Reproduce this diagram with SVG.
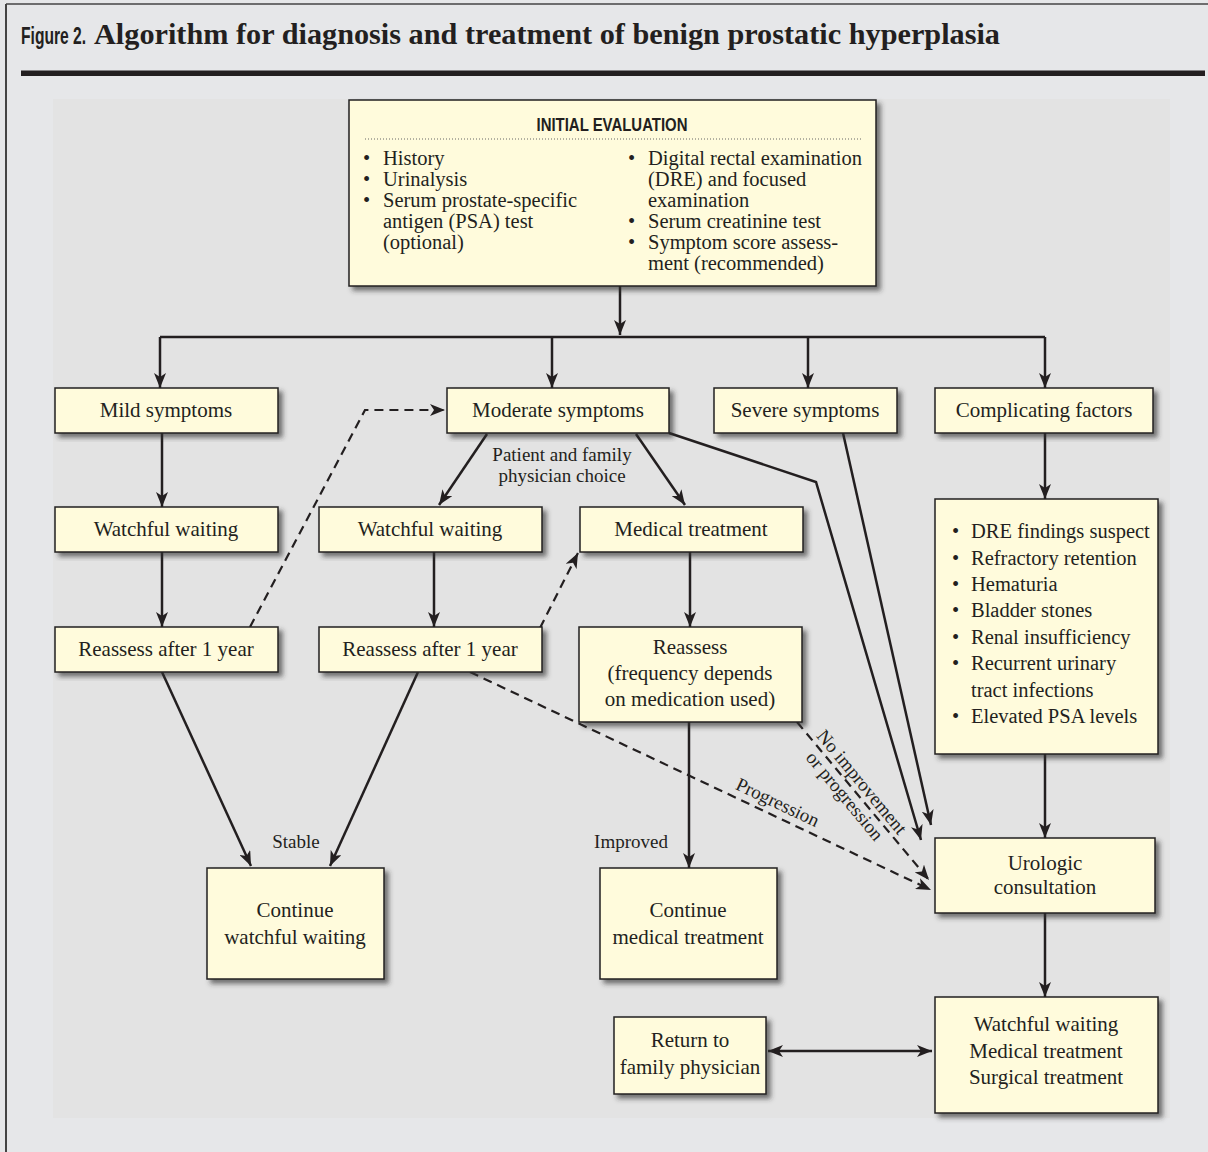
<svg xmlns="http://www.w3.org/2000/svg" width="1208" height="1152" viewBox="0 0 1208 1152">
<style>
.bg{fill:#e6e7e9}
.panel{fill:#e3e3e3}
.box{fill:#fffbdc;stroke:#231f20;stroke-width:1.5;filter:url(#sh)}
.t{font-family:"Liberation Serif",serif;font-size:21px;fill:#231f20;text-anchor:middle}
.l{font-family:"Liberation Serif",serif;font-size:20.5px;fill:#231f20}
.lab{font-family:"Liberation Serif",serif;font-size:19px;fill:#231f20;text-anchor:middle}
.c{fill:none;stroke:#231f20;stroke-width:2.5}
.d{fill:none;stroke:#231f20;stroke-width:2.2;stroke-dasharray:9 6}
</style>
<defs>
<filter id="sh" x="-10%" y="-10%" width="130%" height="130%">
<feDropShadow dx="4" dy="4" stdDeviation="2.5" flood-color="#333" flood-opacity="0.65"/>
</filter>
<marker id="a" markerUnits="userSpaceOnUse" markerWidth="16" markerHeight="12" refX="15" refY="6" orient="auto">
<path d="M0,0 L15,6 L0,12 L4,6 z" fill="#231f20"/>
</marker>
<marker id="as" markerUnits="userSpaceOnUse" markerWidth="16" markerHeight="12" refX="15" refY="6" orient="auto-start-reverse">
<path d="M0,0 L15,6 L0,12 L4,6 z" fill="#231f20"/>
</marker>
</defs>
<rect class="bg" x="0" y="0" width="1208" height="1152"/>
<rect class="panel" x="53" y="99" width="1117" height="1019"/>
<line x1="6" y1="4" x2="1208" y2="4" stroke="#444" stroke-width="1.5"/>
<line x1="6" y1="4" x2="6" y2="1152" stroke="#444" stroke-width="2"/>
<g id="title">
<text transform="translate(21,44) scale(0.68,1)" font-family="'Liberation Sans',sans-serif" font-weight="bold" font-size="23" fill="#231f20">Figure 2.</text>
<text x="94" y="44" font-family="'Liberation Serif',serif" font-weight="bold" font-size="29" fill="#231f20" textLength="906" lengthAdjust="spacingAndGlyphs">Algorithm for diagnosis and treatment of benign prostatic hyperplasia</text>
</g>
<rect x="21" y="70.5" width="1184" height="5.5" fill="#231f20"/>

<g id="connectors">
<path class="c" d="M620,286 V335" marker-end="url(#a)"/>
<path class="c" d="M160,337 H1045"/>
<path class="c" d="M160,337 V388" marker-end="url(#a)"/>
<path class="c" d="M552,337 V388" marker-end="url(#a)"/>
<path class="c" d="M808,337 V388" marker-end="url(#a)"/>
<path class="c" d="M1045,337 V388" marker-end="url(#a)"/>
<path class="c" d="M162,433 V507" marker-end="url(#a)"/>
<path class="c" d="M162,552 V627" marker-end="url(#a)"/>
<path class="c" d="M487,434 L439,505" marker-end="url(#a)"/>
<path class="c" d="M636,434 L685,505" marker-end="url(#a)"/>
<path class="c" d="M434,552 V627" marker-end="url(#a)"/>
<path class="c" d="M690,552 V627" marker-end="url(#a)"/>
<path class="c" d="M1045,433 V499" marker-end="url(#a)"/>
<path class="c" d="M1045,754 V838" marker-end="url(#a)"/>
<path class="c" d="M1045,913 V997" marker-end="url(#a)"/>
<path class="c" d="M669,433 L816,482 L921,840" marker-end="url(#a)"/>
<path class="c" d="M843,433 L931,825" marker-end="url(#a)"/>
<path class="c" d="M162,672 L251,866" marker-end="url(#a)"/>
<path class="c" d="M418,672 L330,866" marker-end="url(#a)"/>
<path class="c" d="M689,722 V868" marker-end="url(#a)"/>
<path class="c" d="M768,1051 H932" marker-start="url(#as)" marker-end="url(#a)"/>
<path class="d" d="M250,627 L365,410 H445" marker-end="url(#a)"/>
<path class="d" d="M540,628 L578,553" marker-end="url(#a)"/>
<path class="d" d="M470,672 L931,890" marker-end="url(#a)"/>
<path class="d" d="M797,722 L929,880" marker-end="url(#a)"/>
</g>

<g id="initial-evaluation">
<rect class="box" x="349" y="100" width="527" height="186"/>
<text x="612" y="131" font-family="'Liberation Sans',sans-serif" font-weight="bold" font-size="18" fill="#231f20" text-anchor="middle" textLength="151" lengthAdjust="spacingAndGlyphs">INITIAL EVALUATION</text>
<line x1="365" y1="139" x2="862" y2="139" stroke="#666" stroke-width="1" stroke-dasharray="1 2"/>
<text class="l" x="363" y="165">•</text><text class="l" x="383" y="165">History</text>
<text class="l" x="363" y="186">•</text><text class="l" x="383" y="186">Urinalysis</text>
<text class="l" x="363" y="207">•</text><text class="l" x="383" y="207">Serum prostate-specific</text>
<text class="l" x="383" y="228">antigen (PSA) test</text>
<text class="l" x="383" y="249">(optional)</text>
<text class="l" x="628" y="165">•</text><text class="l" x="648" y="165">Digital rectal examination</text>
<text class="l" x="648" y="186">(DRE) and focused</text>
<text class="l" x="648" y="207">examination</text>
<text class="l" x="628" y="228">•</text><text class="l" x="648" y="228">Serum creatinine test</text>
<text class="l" x="628" y="249">•</text><text class="l" x="648" y="249">Symptom score assess-</text>
<text class="l" x="648" y="270">ment (recommended)</text>
</g>

<g id="mild"><rect class="box" x="55" y="388" width="223" height="45"/><text class="t" x="166" y="417">Mild symptoms</text></g>
<g id="moderate"><rect class="box" x="447" y="388" width="222" height="45"/><text class="t" x="558" y="417">Moderate symptoms</text></g>
<g id="severe"><rect class="box" x="714" y="388" width="183" height="45"/><text class="t" x="805" y="417">Severe symptoms</text></g>
<g id="complicating"><rect class="box" x="935" y="388" width="218" height="45"/><text class="t" x="1044" y="417">Complicating factors</text></g>

<g id="watchful-1"><rect class="box" x="55" y="507" width="223" height="45"/><text class="t" x="166" y="536">Watchful waiting</text></g>
<g id="watchful-2"><rect class="box" x="319" y="507" width="223" height="45"/><text class="t" x="430" y="536">Watchful waiting</text></g>
<g id="medical"><rect class="box" x="580" y="507" width="223" height="45"/><text class="t" x="691" y="536">Medical treatment</text></g>

<g id="factors-list">
<rect class="box" x="935" y="499" width="223" height="255"/>
<text class="l" x="952" y="538">•</text><text class="l" x="971" y="538">DRE findings suspect</text>
<text class="l" x="952" y="565">•</text><text class="l" x="971" y="565">Refractory retention</text>
<text class="l" x="952" y="591">•</text><text class="l" x="971" y="591">Hematuria</text>
<text class="l" x="952" y="617">•</text><text class="l" x="971" y="617">Bladder stones</text>
<text class="l" x="952" y="644">•</text><text class="l" x="971" y="644">Renal insufficiency</text>
<text class="l" x="952" y="670">•</text><text class="l" x="971" y="670">Recurrent urinary</text>
<text class="l" x="971" y="697">tract infections</text>
<text class="l" x="952" y="723">•</text><text class="l" x="971" y="723">Elevated PSA levels</text>
</g>

<g id="reassess-1"><rect class="box" x="55" y="627" width="223" height="45"/><text class="t" x="166" y="656">Reassess after 1 year</text></g>
<g id="reassess-2"><rect class="box" x="319" y="627" width="223" height="45"/><text class="t" x="430" y="656">Reassess after 1 year</text></g>
<g id="reassess-3"><rect class="box" x="579" y="627" width="223" height="95"/>
<text class="t" x="690" y="654">Reassess</text><text class="t" x="690" y="680">(frequency depends</text><text class="t" x="690" y="706">on medication used)</text></g>

<g id="urologic"><rect class="box" x="935" y="838" width="220" height="75"/>
<text class="t" x="1045" y="870">Urologic</text><text class="t" x="1045" y="894">consultation</text></g>
<g id="continue-watchful"><rect class="box" x="207" y="868" width="177" height="111"/>
<text class="t" x="295" y="917">Continue</text><text class="t" x="295" y="944">watchful waiting</text></g>
<g id="continue-medical"><rect class="box" x="600" y="868" width="177" height="111"/>
<text class="t" x="688" y="917">Continue</text><text class="t" x="688" y="944">medical treatment</text></g>
<g id="return"><rect class="box" x="614" y="1017" width="152" height="77"/>
<text class="t" x="690" y="1047">Return to</text><text class="t" x="690" y="1074">family physician</text></g>
<g id="options"><rect class="box" x="935" y="997" width="223" height="116"/>
<text class="t" x="1046" y="1031">Watchful waiting</text><text class="t" x="1046" y="1058">Medical treatment</text><text class="t" x="1046" y="1084">Surgical treatment</text></g>

<g id="labels">
<text class="lab" x="562" y="461">Patient and family</text>
<text class="lab" x="562" y="482">physician choice</text>
<text class="lab" x="296" y="848">Stable</text>
<text class="lab" x="631" y="848">Improved</text>
<text class="lab" transform="translate(775,808) rotate(25.4)">Progression</text>
<text class="lab" transform="translate(857,786) rotate(50.3)">No improvement</text>
<text class="lab" transform="translate(840,800) rotate(50.3)">or progression</text>
</g>
</svg>
